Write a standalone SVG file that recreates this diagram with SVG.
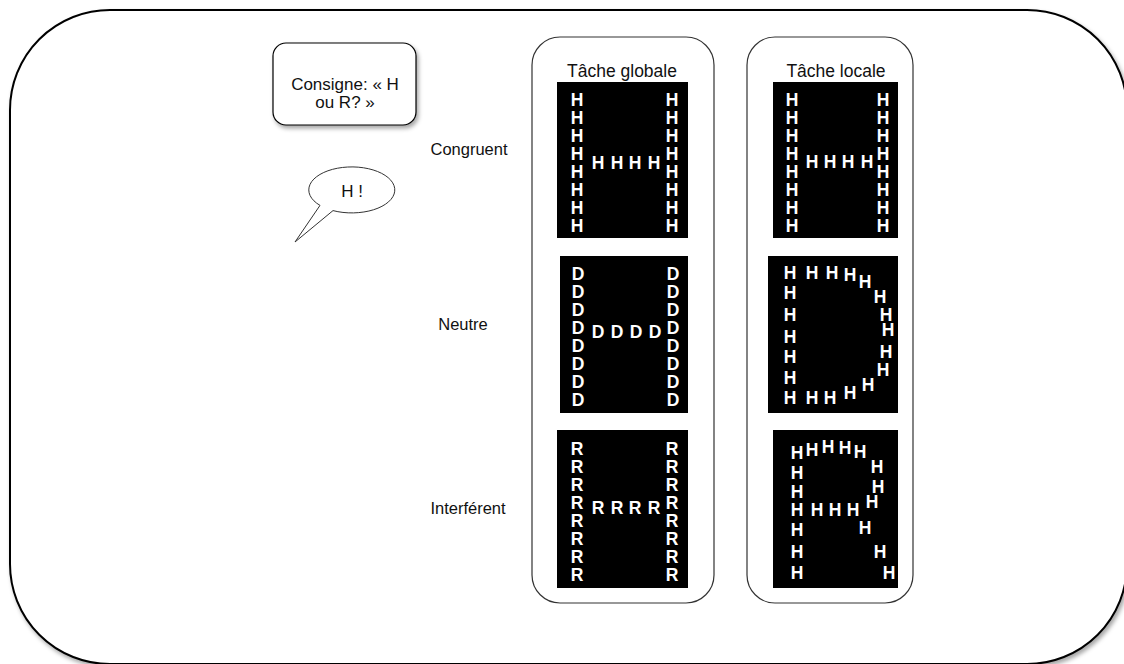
<svg xmlns="http://www.w3.org/2000/svg" width="1124" height="664" viewBox="0 0 1124 664">
<style>
.lbl{font-family:"Liberation Sans",Arial,sans-serif;font-size:16.5px;fill:#111;text-anchor:middle}
.cs{font-family:"Liberation Sans",Arial,sans-serif;font-size:17px;fill:#111;text-anchor:middle}
.ttl{font-family:"Liberation Sans",Arial,sans-serif;font-size:17.5px;fill:#111;text-anchor:middle}
.L{font-family:"Liberation Sans",Arial,sans-serif;font-size:17.5px;font-weight:bold;fill:#fff;text-anchor:middle}
.col{fill:#fff;stroke:#333;stroke-width:1.2}
.pan{fill:#000}
</style>
<defs>
<filter id="sh" x="-5%" y="-5%" width="115%" height="115%">
<feDropShadow dx="2" dy="3" stdDeviation="2" flood-color="#000" flood-opacity="0.35"/>
</filter>
</defs>
<rect width="1124" height="664" fill="#fff"/>
<g id="frame">
<rect x="10" y="10" width="1117" height="654" rx="100" ry="100" fill="#fff" stroke="#000" stroke-width="2" filter="url(#sh)"/>
</g>
<g id="connectors"/>
<g id="consigne">
<rect x="273" y="43" width="143" height="82" rx="13" ry="13" fill="#fff" stroke="#000" stroke-width="1.2" filter="url(#sh)"/>
<text class="cs" x="345" y="90">Consigne: « H</text>
<text class="cs" x="345" y="108">ou R? »</text>
</g>
<g id="bubble">
<path d="M 333 210.6 A 43 23 0 1 0 320 205.4 L 295 242 Z" fill="#fff" stroke="#333" stroke-width="1"/>
<text class="cs" x="352" y="197">H !</text>
</g>
<g id="row-labels">
<text class="lbl" x="469" y="155">Congruent</text>
<text class="lbl" x="463" y="330">Neutre</text>
<text class="lbl" x="468" y="514">Interférent</text>
</g>
<g id="col-global">
<rect class="col" x="532" y="37" width="182" height="566" rx="28" ry="28"/>
<text class="ttl" x="622" y="77">Tâche globale</text>
</g>
<g id="col-local">
<rect class="col" x="747" y="37" width="166" height="566" rx="28" ry="28"/>
<text class="ttl" x="836" y="77">Tâche locale</text>
</g>
<g id="global-congruent">
<rect class="pan" x="557" y="82" width="131" height="156"/>
<text class="L" x="577 577 577 577 577 577 577 577" y="105.5 123.5 141.5 159.5 177.5 195.5 213.5 231.5">HHHHHHHH</text>
<text class="L" x="672 672 672 672 672 672 672 672" y="105.5 123.5 141.5 159.5 177.5 195.5 213.5 231.5">HHHHHHHH</text>
<text class="L" x="598 617 635 654" y="169">HHHH</text>
</g>
<g id="local-congruent">
<rect class="pan" x="773" y="82" width="125" height="156"/>
<text class="L" x="792 792 792 792 792 792 792 792" y="106 124 142 160 178 196 214 232">HHHHHHHH</text>
<text class="L" x="883 883 883 883 883 883 883 883" y="106 124 142 160 178 196 214 232">HHHHHHHH</text>
<text class="L" x="812 830 848 867" y="168">HHHH</text>
</g>
<g id="global-neutre">
<rect class="pan" x="560" y="256" width="128" height="157"/>
<text class="L" x="578 578 578 578 578 578 578 578" y="279.5 297.5 315.5 333.5 351.5 369.5 387.5 405.5">DDDDDDDD</text>
<text class="L" x="673 673 673 673 673 673 673 673" y="279.5 297.5 315.5 333.5 351.5 369.5 387.5 405.5">DDDDDDDD</text>
<text class="L" x="598 617 636 655" y="338">DDDD</text>
</g>
<g id="local-neutre">
<rect class="pan" x="768" y="256" width="130" height="157"/>
<text class="L" x="790 790 790 790 790 790 790 812 830 812 832 850 865 880 886 888 886 883 868 850" y="279 299 321 343 363 384 404 404 404 279 279 281 288 303 321 336 358 376 391 399">HHHHHHHHHHHHHHHHHHHH</text>
</g>
<g id="global-interferent">
<rect class="pan" x="557" y="430" width="131" height="158"/>
<text class="L" x="577 577 577 577 577 577 577 577" y="454.5 472.5 490.5 508.5 526.5 544.5 562.5 580.5">RRRRRRRR</text>
<text class="L" x="672 672 672 672 672 672 672 672" y="454.5 472.5 490.5 508.5 526.5 544.5 562.5 580.5">RRRRRRRR</text>
<text class="L" x="598 617 635 654" y="514">RRRR</text>
</g>
<g id="local-interferent">
<rect class="pan" x="773" y="430" width="125" height="158"/>
<text class="L" x="797 797 797 797 797 797 797 812 828 845 860 877 878 872 817 835 853 865 880 889" y="459 479 498 516 536 558 579 456 453 454 458 473 493 508 516 516 516 534 558 579">HHHHHHHHHHHHHHHHHHHH</text>
</g>
</svg>
